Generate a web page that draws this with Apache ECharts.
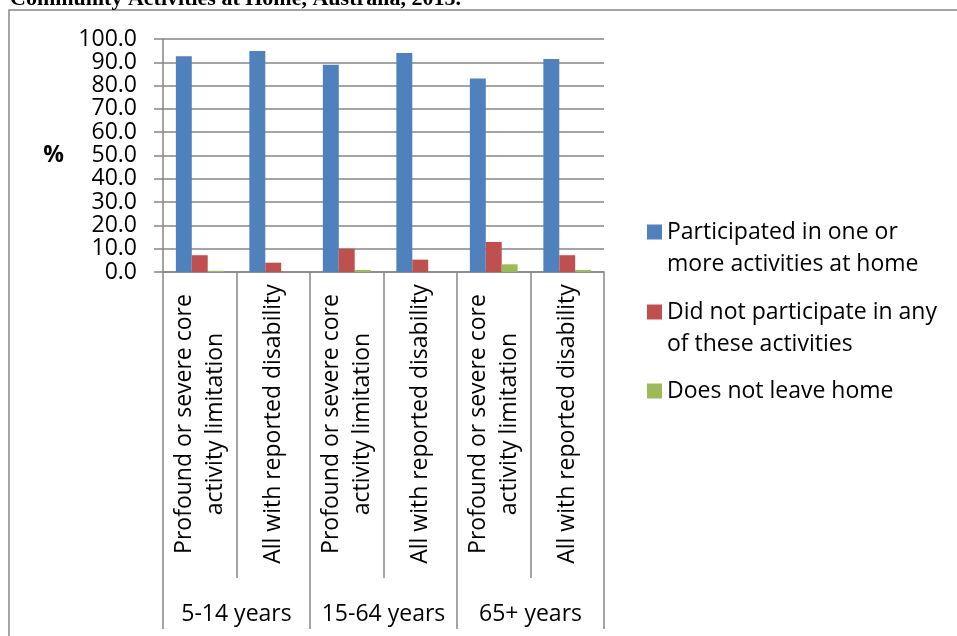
<!DOCTYPE html>
<html>
<head>
<meta charset="utf-8">
<script src="https://cdn.jsdelivr.net/npm/echarts@6/dist/echarts.min.js"></script>
<style>
  html, body { margin: 0; padding: 0; background: #ffffff; }
  #chart { width: 957px; height: 636px; }
</style>
</head>
<body>
<div id="chart"></div>
<script>
// Category labels (two per age group) and the age groups themselves
var categories = [
  'Profound or severe core\nactivity limitation', 'All with reported disability',
  'Profound or severe core\nactivity limitation', 'All with reported disability',
  'Profound or severe core\nactivity limitation', 'All with reported disability'
];
var ageGroups = ['5-14 years', '15-64 years', '65+ years'];

// Series names and values (%)
var seriesNames = [
  'Participated in one or more activities at home',
  'Did not participate in any of these activities',
  'Does not leave home'
];
var participated = [92.6, 94.9, 89.0, 94.0, 83.0, 91.4];
var notParticipated = [7.2, 4.0, 10.0, 5.3, 12.9, 7.2];
var doesNotLeave = [0.5, 0, 0.9, 0, 3.3, 0.9];

// Legend text split over lines
var legendLines = [
  ['Participated in one or', 'more activities at home'],
  ['Did not participate in any', 'of these activities'],
  ['Does not leave home']
];

var titleText = 'Community Activities at Home, Australia, 2015.';
var colors = ['#4F81BD', '#C0504D', '#9BBB59'];
var font = '"Open Sans", sans-serif';
var axisGray = '#868686';

var chart = echarts.init(document.getElementById('chart'), null, { renderer: 'canvas' });

function makeLegend(i, top) {
  return {
    show: true,
    orient: 'vertical',
    left: 647,
    top: top,
    padding: 0,
    itemWidth: 15,
    itemHeight: 15,
    selectedMode: false,
    icon: 'rect',
    data: [seriesNames[i]],
    formatter: function () {
      var lines = legendLines[i];
      // a leading blank line keeps the marker beside the first text line
      return lines.length > 1 ? '\n' + lines.join('\n') : lines[0];
    },
    textStyle: { fontFamily: font, fontSize: 23, color: '#000', lineHeight: 32 }
  };
}

var option = {
  animation: false,
  color: colors,
  graphic: [
    {
      type: 'rect',
      shape: { x: 9, y: 10, width: 1000, height: 700 },
      style: { fill: 'none', stroke: axisGray, lineWidth: 1.5 },
      z: -1
    },
    {
      type: 'text',
      x: 10,
      y: -1,
      style: {
        text: titleText,
        font: 'bold 22px "Liberation Serif", "Times New Roman", serif',
        fill: '#000',
        verticalAlign: 'middle'
      }
    }
  ],
  legend: [makeLegend(0, 184), makeLegend(1, 264), makeLegend(2, 375)],
  grid: { left: 163, right: 353, top: 39, bottom: 364, containLabel: false },
  yAxis: {
    type: 'value',
    min: 0,
    max: 100,
    interval: 10,
    name: '%',
    nameLocation: 'middle',
    nameRotate: 0,
    nameGap: 99,
    nameTextStyle: { fontFamily: font, fontSize: 23, fontWeight: 'bold', color: '#000', padding: [6, 0, 0, 0] },
    axisLine: { show: true, lineStyle: { color: axisGray, width: 1.5 } },
    axisTick: { show: true, length: 9, lineStyle: { color: axisGray, width: 1.5 } },
    axisLabel: {
      margin: 26,
      fontFamily: font,
      fontSize: 23,
      color: '#000',
      formatter: function (v) { return v.toFixed(1); }
    },
    splitLine: { show: true, lineStyle: { color: axisGray, width: 1.5 } }
  },
  xAxis: [
    {
      type: 'category',
      data: categories,
      position: 'bottom',
      axisLine: { show: true, lineStyle: { color: axisGray, width: 1.5 } },
      axisTick: { show: true, interval: 0, length: 306, lineStyle: { color: axisGray, width: 1.5 } },
      axisLabel: {
        interval: 0,
        rotate: 90,
        align: 'center',
        verticalAlign: 'middle',
        margin: 152,
        lineHeight: 31,
        fontFamily: font,
        fontSize: 23,
        color: '#000'
      }
    },
    {
      type: 'category',
      data: ageGroups,
      position: 'bottom',
      axisLine: { show: false },
      axisTick: { show: true, interval: 0, length: 357, lineStyle: { color: axisGray, width: 1.5 } },
      axisLabel: {
        interval: 0,
        margin: 342,
        verticalAlign: 'middle',
        fontFamily: font,
        fontSize: 23,
        color: '#000'
      }
    }
  ],
  series: [
    { name: seriesNames[0], type: 'bar', data: participated, xAxisIndex: 0, barGap: '0%', barCategoryGap: '35%' },
    { name: seriesNames[1], type: 'bar', data: notParticipated, xAxisIndex: 0, barGap: '0%', barCategoryGap: '35%' },
    { name: seriesNames[2], type: 'bar', data: doesNotLeave, xAxisIndex: 0, barGap: '0%', barCategoryGap: '35%' }
  ]
};

chart.setOption(option);
</script>
</body>
</html>
